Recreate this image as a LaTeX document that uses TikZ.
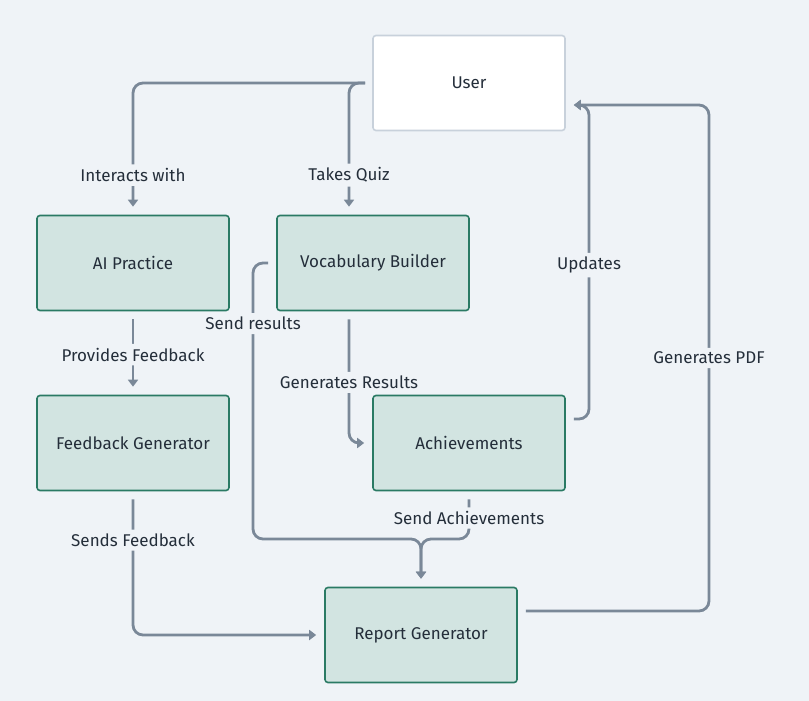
\documentclass[tikz,border=0pt]{standalone}
\usepackage{fontspec}
\setmainfont{Fira Sans}
\usepackage{xcolor}
\usepackage{tikz}
\usetikzlibrary{positioning, arrows.meta}

\definecolor{bgcol}{RGB}{239,243,247}
\definecolor{edgecol}{RGB}{122,136,152}
\definecolor{boxfill}{RGB}{210,228,225}
\definecolor{boxline}{RGB}{42,122,100}
\definecolor{userline}{RGB}{200,209,219}
\definecolor{txtcol}{RGB}{36,46,58}

\begin{document}
\begin{tikzpicture}[
    x=1pt, y=-1pt,
    box_style/.style={draw=boxline, fill=boxfill, line width=1.6pt, rounded corners=3pt,
        minimum width=192pt, minimum height=95pt, text=txtcol, font=\fontsize{17}{20}\selectfont},
    user_style/.style={box_style, draw=userline, fill=white},
    edge_style/.style={draw=edgecol, line width=2.8pt, rounded corners=10pt,
        -{Triangle[length=7pt,width=10pt]}, shorten <=8pt, shorten >=8pt},
    label_style/.style={fill=bgcol, text=txtcol, inner sep=4pt, font=\fontsize{17}{20}\selectfont}
]
    \useasboundingbox[fill=bgcol] (0,0) rectangle (809,701);

    % Coordinates
    \coordinate (sr) at (253,539);
    \coordinate (join) at (421,539);
    \coordinate (upd) at (589,105);
    \coordinate (pdf) at (709,105);

    % Nodes
    \node[user_style] (user) at (469,83) {User};
    \node[box_style] (ai) at (133,263) {AI Practice};
    \node[box_style] (vocab) at (373,263) {Vocabulary Builder};
    \node[box_style] (feedback) at (133,443) {Feedback Generator};
    \node[box_style] (ach) at (469,443) {Achievements};
    \node[box_style] (report) at (421,635) {Report Generator};

    % Edges with labels
    \draw[edge_style, shorten <=7pt] (user.west) -| (ai.north) node[pos=0.85, label_style] {Interacts with};
    \draw[edge_style, shorten <=7pt] (user.west) -| ([xshift=-24pt]vocab.north) node[pos=0.85, label_style] {Takes Quiz};
    \draw[edge_style] (ai.south) -- (feedback.north) node[pos=0.52, label_style] {Provides Feedback};
    \draw[edge_style] ([xshift=-24pt]vocab.south) |- (ach.west) node[pos=0.27, label_style] {Generates Results};
    \draw[edge_style] (vocab.west) -| (sr) node[pos=0.61, label_style] {Send results} -- (join) -- (report.north);
    \draw[edge_style] (ach.south) |- (join) node[pos=0.28, label_style] {Send Achievements} -- (report.north);
    \draw[edge_style] (feedback.south) |- (report.west) node[pos=0.17, label_style] {Sends Feedback};
    \draw[edge_style] ([yshift=24pt]report.east) -| (pdf) node[pos=0.75, label_style] {Generates PDF} -- ([yshift=-22pt]user.east);
    \draw[edge_style] ([yshift=24pt]ach.east) -| (upd) node[pos=0.745, label_style] {Updates} -- ([yshift=-22pt]user.east);
\end{tikzpicture}
\end{document}
